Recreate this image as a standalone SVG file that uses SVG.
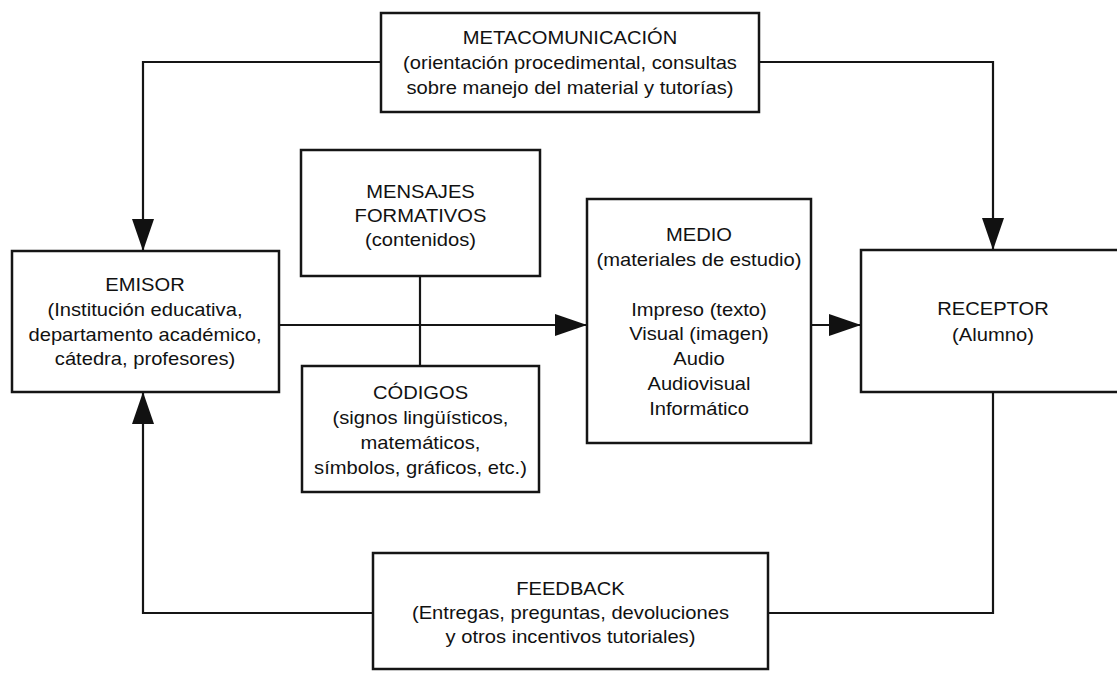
<svg xmlns="http://www.w3.org/2000/svg" width="1117" height="673" viewBox="0 0 1117 673">
  <defs>
    <style>
      .box { fill: #ffffff; stroke: #151515; stroke-width: 2.5; }
      .conn { fill: none; stroke: #151515; stroke-width: 2.2; }
      .t { font-family: "Liberation Sans", Arial, sans-serif; font-size: 18px; fill: #111111; text-anchor: middle; }
    </style>
    <marker id="arr" markerUnits="userSpaceOnUse" markerWidth="32" markerHeight="22" viewBox="0 0 32 22" refX="31" refY="11" orient="auto">
      <path d="M0,0 L32,11 L0,22 z" fill="#111111"/>
    </marker>
  </defs>
  <rect width="1117" height="673" fill="#ffffff"/>

  <g id="connectors">
    <path class="conn" d="M381,62 H143 V250" marker-end="url(#arr)"/>
    <path class="conn" d="M759,62 H993 V249" marker-end="url(#arr)"/>
    <path class="conn" d="M279,325 H586" marker-end="url(#arr)"/>
    <path class="conn" d="M811,325 H860" marker-end="url(#arr)"/>
    <path class="conn" d="M420,276 V366"/>
    <path class="conn" d="M993,392 V613 H768"/>
    <path class="conn" d="M373,613 H143 V393" marker-end="url(#arr)"/>
  </g>

  <g id="metacomunicacion">
    <rect class="box" x="381" y="13" width="378" height="99"/>
    <g transform="matrix(1.12 0 0 1 -68.4 0)">
      <text class="t" x="570" y="44.5">METACOMUNICACIÓN</text>
      <text class="t" x="570" y="69.5">(orientación procedimental, consultas</text>
      <text class="t" x="570" y="94.5">sobre manejo del material y tutorías)</text>
    </g>
  </g>

  <g id="emisor">
    <rect class="box" x="12" y="251" width="267" height="141"/>
    <g transform="matrix(1.12 0 0 1 -17.4 0)">
      <text class="t" x="145" y="291.5">EMISOR</text>
      <text class="t" x="145" y="316.5">(Institución educativa,</text>
      <text class="t" x="145" y="341">departamento académico,</text>
      <text class="t" x="145" y="365.5">cátedra, profesores)</text>
    </g>
  </g>

  <g id="mensajes">
    <rect class="box" x="301" y="150" width="239" height="126"/>
    <g transform="matrix(1.12 0 0 1 -50.46 0)">
      <text class="t" x="420.5" y="198.5">MENSAJES</text>
      <text class="t" x="420.5" y="222.5">FORMATIVOS</text>
      <text class="t" x="420.5" y="246.5">(contenidos)</text>
    </g>
  </g>

  <g id="codigos">
    <rect class="box" x="302" y="366" width="237" height="126"/>
    <g transform="matrix(1.12 0 0 1 -50.46 0)">
      <text class="t" x="420.5" y="399.5">CÓDIGOS</text>
      <text class="t" x="420.5" y="424.5">(signos lingüísticos,</text>
      <text class="t" x="420.5" y="449.5">matemáticos,</text>
      <text class="t" x="420.5" y="474.5">símbolos, gráficos, etc.)</text>
    </g>
  </g>

  <g id="medio">
    <rect class="box" x="587" y="199" width="224" height="244"/>
    <g transform="matrix(1.12 0 0 1 -83.88 0)">
      <text class="t" x="699" y="241.5">MEDIO</text>
      <text class="t" x="699" y="266.5">(materiales de estudio)</text>
      <text class="t" x="699" y="316.5">Impreso (texto)</text>
      <text class="t" x="699" y="340.5">Visual (imagen)</text>
      <text class="t" x="699" y="365.5">Audio</text>
      <text class="t" x="699" y="390.5">Audiovisual</text>
      <text class="t" x="699" y="415.5">Informático</text>
    </g>
  </g>

  <g id="receptor">
    <rect class="box" x="861" y="250" width="270" height="142"/>
    <g transform="matrix(1.12 0 0 1 -119.16 0)">
      <text class="t" x="993" y="315.5">RECEPTOR</text>
      <text class="t" x="993" y="341.5">(Alumno)</text>
    </g>
  </g>

  <g id="feedback">
    <rect class="box" x="373" y="553" width="395" height="116"/>
    <g transform="matrix(1.12 0 0 1 -68.46 0)">
      <text class="t" x="570.5" y="595.5">FEEDBACK</text>
      <text class="t" x="570.5" y="619.5">(Entregas, preguntas, devoluciones</text>
      <text class="t" x="570.5" y="643.5">y otros incentivos tutoriales)</text>
    </g>
  </g>
</svg>
